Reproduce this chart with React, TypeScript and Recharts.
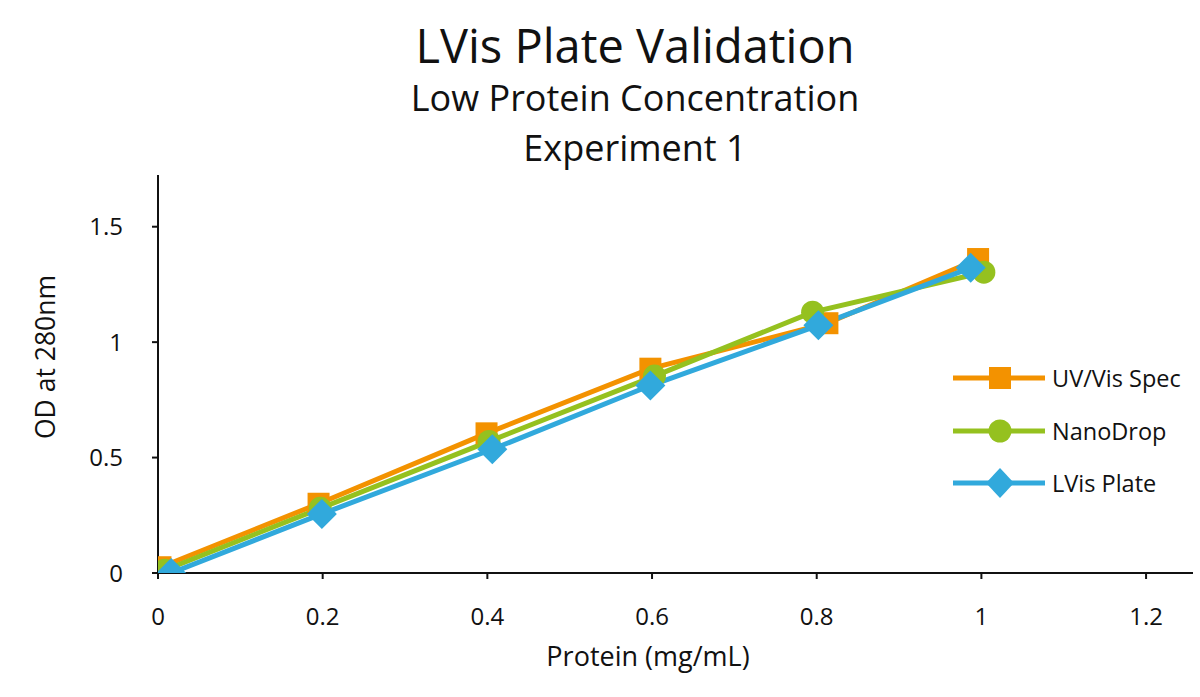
import React from "react";
import { LineChart, Line, XAxis, YAxis } from "recharts";

const uvVisSpec = [
  { x: 0.003, y: 0.025 },
  { x: 0.195, y: 0.3 },
  { x: 0.399, y: 0.605 },
  { x: 0.598, y: 0.885 },
  { x: 0.813, y: 1.082 },
  { x: 0.996, y: 1.36 },
];
const nanoDrop = [
  { x: 0.008, y: 0.012 },
  { x: 0.197, y: 0.28 },
  { x: 0.402, y: 0.57 },
  { x: 0.603, y: 0.853 },
  { x: 0.795, y: 1.13 },
  { x: 1.003, y: 1.303 },
];
const lvisPlate = [
  { x: 0.016, y: 0.0 },
  { x: 0.199, y: 0.256 },
  { x: 0.406, y: 0.536 },
  { x: 0.598, y: 0.812 },
  { x: 0.802, y: 1.073 },
  { x: 0.987, y: 1.322 },
];
const xTicks = [0, 0.2, 0.4, 0.6, 0.8, 1, 1.2];
const yTicks = [0, 0.5, 1, 1.5];

const ORANGE = "#F39200";
const GREEN = "#95C11F";
const BLUE = "#31A9DC";
const FONT = "'Open Sans', sans-serif";

const SquareDot = (p: any) => (
  <rect key={`s-${p.index}`} x={p.cx - 11} y={p.cy - 11} width={22} height={22} fill={ORANGE} />
);
const CircleDot = (p: any) => (
  <circle key={`c-${p.index}`} cx={p.cx} cy={p.cy} r={11.5} fill={GREEN} />
);
const DiamondDot = (p: any) => (
  <polygon
    key={`d-${p.index}`}
    points={`${p.cx},${p.cy - 15} ${p.cx + 15},${p.cy} ${p.cx},${p.cy + 15} ${p.cx - 15},${p.cy}`}
    fill={BLUE}
  />
);

const legendItems = [
  { name: "UV/Vis Spec", color: ORANGE, shape: "square" },
  { name: "NanoDrop", color: GREEN, shape: "circle" },
  { name: "LVis Plate", color: BLUE, shape: "diamond" },
];

const LegendBox = () => (
  <div style={{ position: "absolute", left: 951, top: 352, fontFamily: FONT, fontSize: 23.5 }}>
    {legendItems.map((it) => (
      <div key={it.name} style={{ display: "flex", alignItems: "center", height: 52.5 }}>
        <svg width={95} height={32} style={{ flex: "none" }}>
          <line x1={2} y1={16} x2={94} y2={16} stroke={it.color} strokeWidth={5} />
          {it.shape === "square" && <rect x={38} y={5} width={22} height={22} fill={it.color} />}
          {it.shape === "circle" && <circle cx={49} cy={16} r={11.5} fill={it.color} />}
          {it.shape === "diamond" && <polygon points="49,1 63,16 49,31 35,16" fill={it.color} />}
        </svg>
        <span style={{ marginLeft: 6, color: "#111", whiteSpace: "nowrap" }}>{it.name}</span>
      </div>
    ))}
  </div>
);

export default function App() {
  return (
    <div style={{ position: "absolute", left: 0, top: 0, width: 1200, height: 697, background: "#fff", fontFamily: FONT, overflow: "hidden" }}>
      <div style={{ position: "absolute", left: 0, width: 1270, top: 13, textAlign: "center", fontSize: 47, lineHeight: "64px", color: "#111" }}>
        LVis Plate Validation
      </div>
      <div style={{ position: "absolute", left: 0, width: 1270, top: 73, textAlign: "center", fontSize: 36, lineHeight: "49px", color: "#111" }}>
        Low Protein Concentration
      </div>
      <div style={{ position: "absolute", left: 0, width: 1270, top: 123, textAlign: "center", fontSize: 36, lineHeight: "49px", color: "#111" }}>
        Experiment 1
      </div>
      <div style={{ position: "absolute", left: 0, width: 1296, top: 637, textAlign: "center", fontSize: 27, lineHeight: "37px", color: "#111" }}>
        Protein (mg/mL)
      </div>
      <div
        style={{
          position: "absolute",
          left: 45,
          top: 357,
          transform: "translate(-50%, -50%) rotate(-90deg)",
          fontSize: 26.5,
          lineHeight: "36px",
          whiteSpace: "nowrap",
          color: "#111",
        }}
      >
        OD at 280nm
      </div>
      <LineChart
        width={1200}
        height={697}
        margin={{ top: 175, right: 7, bottom: 44, left: 0 }}
        style={{ position: "absolute", left: 0, top: 0 }}
      >
        <XAxis
          type="number"
          dataKey="x"
          domain={[0, 1.257]}
          ticks={xTicks}
          allowDataOverflow
          height={80}
          stroke="#111"
          strokeWidth={2}
          tickSize={6}
          tickMargin={29}
          tick={{ fill: "#111", fontSize: 24, fontFamily: FONT }}
        />
        <YAxis
          type="number"
          dataKey="y"
          domain={[0, 1.724]}
          ticks={yTicks}
          allowDataOverflow
          width={158}
          stroke="#111"
          strokeWidth={2}
          tickSize={6}
          tickMargin={29}
          tick={{ fill: "#111", fontSize: 24, fontFamily: FONT }}
        />
        <Line data={uvVisSpec} dataKey="y" name="UV/Vis Spec" stroke={ORANGE} strokeWidth={5} dot={SquareDot} activeDot={false} isAnimationActive={false} />
        <Line data={nanoDrop} dataKey="y" name="NanoDrop" stroke={GREEN} strokeWidth={5} dot={CircleDot} activeDot={false} isAnimationActive={false} />
        <Line data={lvisPlate} dataKey="y" name="LVis Plate" stroke={BLUE} strokeWidth={5} dot={DiamondDot} activeDot={false} isAnimationActive={false} />
      </LineChart>
      <LegendBox />
    </div>
  );
}
